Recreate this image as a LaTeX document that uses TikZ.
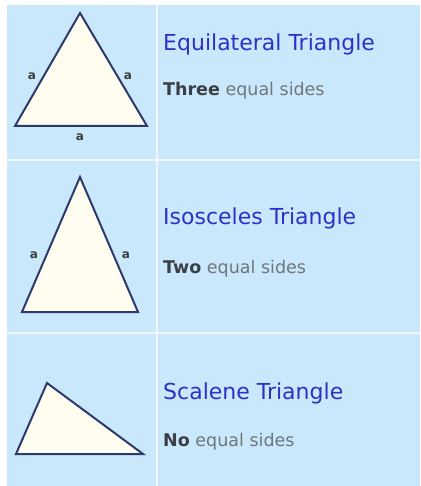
\documentclass[tikz,border=0pt]{standalone}
\usepackage{fontspec}
\setmainfont{DejaVu Sans}
\definecolor{cellbg}{HTML}{C9E8FB}
\definecolor{sepline}{HTML}{EEF8FE}
\definecolor{tristroke}{HTML}{2C3A6E}
\definecolor{trifill}{HTML}{FFFCF0}
\definecolor{titleblue}{HTML}{3030C8}
\definecolor{boldgray}{HTML}{3A3F44}
\definecolor{textgray}{HTML}{70767C}
\tikzset{
  px/.style={x=1pt,y=-1pt},
  tri/.style={draw=tristroke,fill=trifill,line width=2pt,line join=miter},
  title/.style={anchor=base west,inner sep=0pt,text=titleblue,font=\fontsize{22}{26}\selectfont},
  desc/.style={anchor=base west,inner sep=0pt,text=textgray,font=\fontsize{17.5}{20}\selectfont},
  sidelab/.style={inner sep=0pt,text=boldgray,font=\bfseries\fontsize{12}{14}\selectfont},
  sep/.style={draw=sepline,line width=2.5pt}
}
\begin{document}
\begin{tikzpicture}[px]
\useasboundingbox (0,0) rectangle (420,486);
\fill[white] (0,0) rectangle (420,486);
\fill[cellbg] (7,5) rectangle (420,486);
\draw[sep] (157,5) -- (157,486);
\draw[sep] (7,160) -- (420,160);
\draw[sep] (7,333) -- (420,333);
% Row 1: equilateral
\coordinate (e1) at (80,13);
\coordinate (e2) at (15,126);
\coordinate (e3) at (147,126);
\draw[tri] (e1) -- (e2) -- (e3) -- cycle;
\node[sidelab] (ea) at (32,76) {a};
\node[sidelab] (eb) at (128,76) {a};
\node[sidelab] (ec) at (80,137) {a};
\node[title] (et) at (163,51) {Equilateral Triangle};
\node[desc] (ed) at (163,96) {\textcolor{boldgray}{\bfseries Three} equal sides};
% Row 2: isosceles
\coordinate (i1) at (80,177);
\coordinate (i2) at (22,312);
\coordinate (i3) at (138,312);
\draw[tri] (i1) -- (i2) -- (i3) -- cycle;
\node[sidelab] (ia) at (34,255) {a};
\node[sidelab] (ib) at (126,255) {a};
\node[title] (it) at (163,224) {Isosceles Triangle};
\node[desc] (id) at (163,273) {\textcolor{boldgray}{\bfseries Two} equal sides};
% Row 3: scalene
\coordinate (s1) at (47,383);
\coordinate (s2) at (16,454);
\coordinate (s3) at (143,454);
\draw[tri] (s1) -- (s2) -- (s3) -- cycle;
\node[title] (st) at (163,399) {Scalene Triangle};
\node[desc] (sd) at (163,446) {\textcolor{boldgray}{\bfseries No} equal sides};
\end{tikzpicture}
\end{document}
